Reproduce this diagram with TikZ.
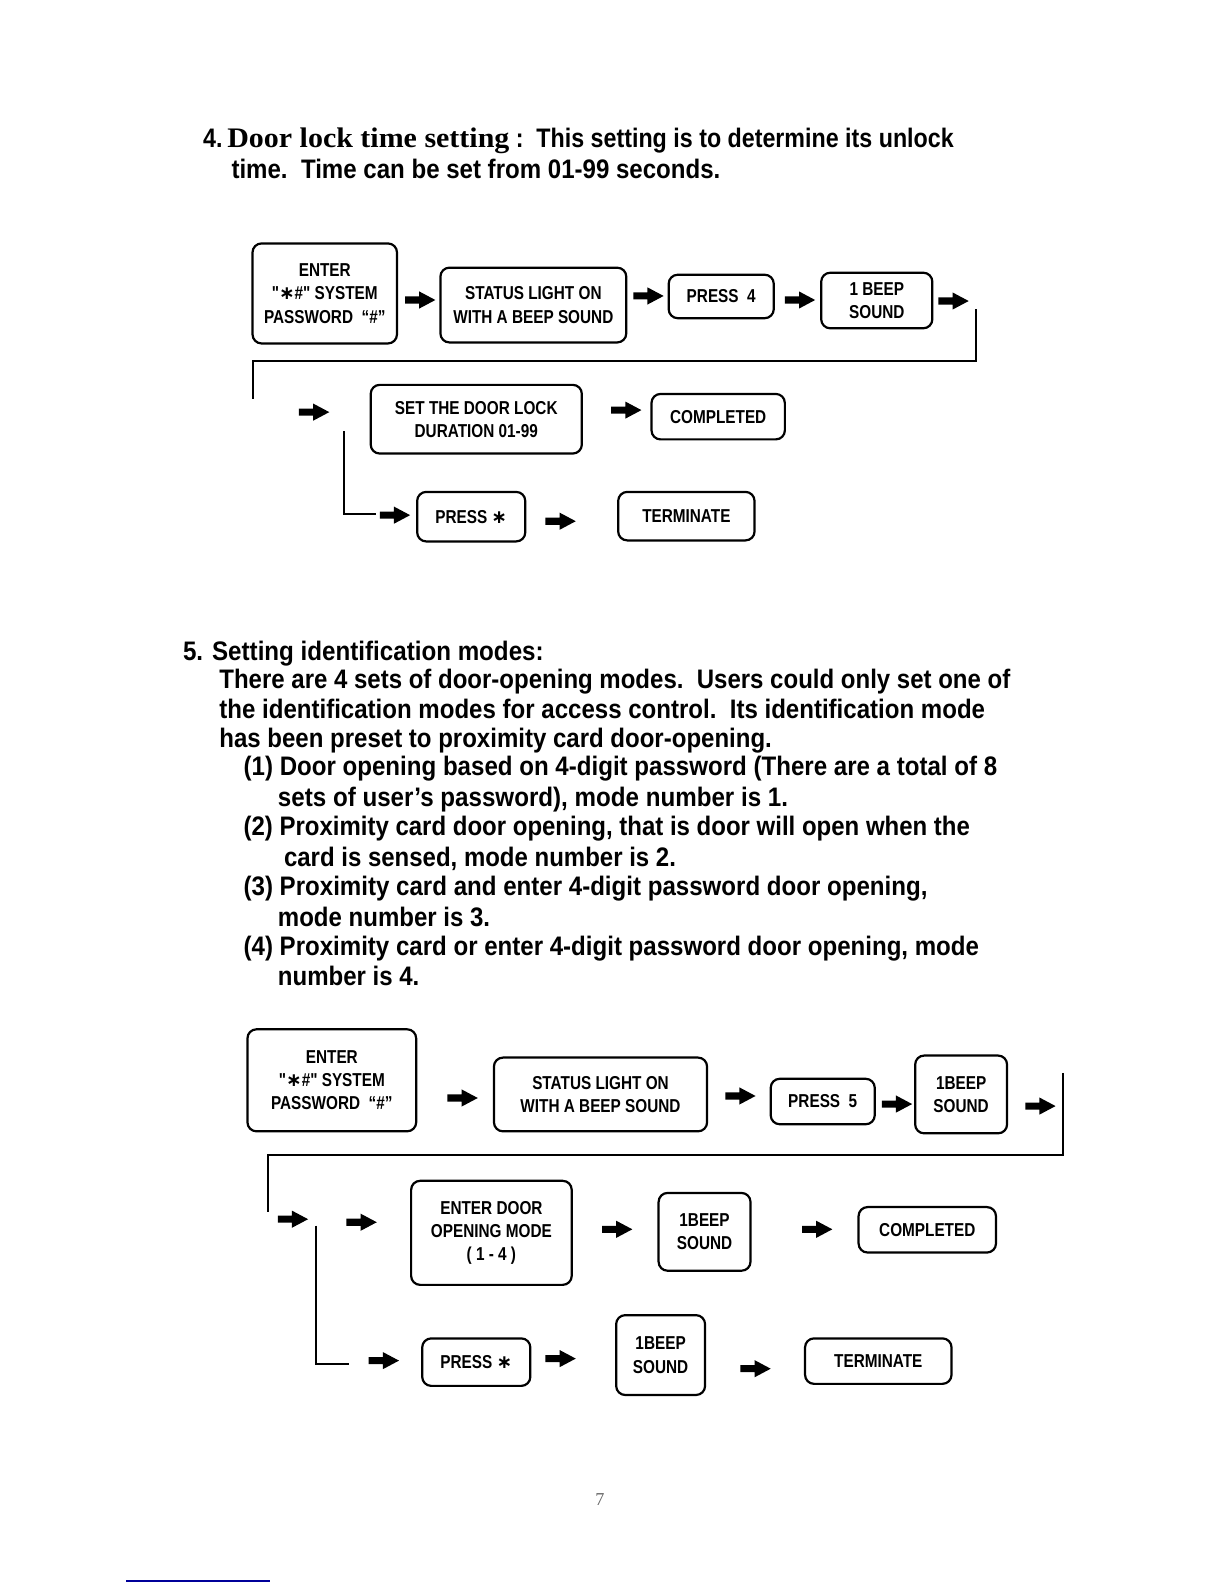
\documentclass[tikz,border=0pt]{standalone}
\usepackage{fontspec}
\usepackage{graphicx}
\setmainfont{Liberation Serif}
\newfontfamily\narrow[FakeStretch=0.82]{Liberation Sans}
\newfontfamily\serifb{Liberation Serif}
\newfontfamily\djv{DejaVu Sans}
\newsavebox\fitbox
\newcommand\fitw[2]{\sbox\fitbox{#2}\pgfmathsetmacro\fitfac{#1/\the\wd\fitbox}\scalebox{\fitfac}[1]{\usebox\fitbox}}
\newcommand\boxfont{\narrow\bfseries\fontsize{18.5}{23}\selectfont}
\newcommand\bodyfont{\narrow\bfseries\fontsize{26.5}{29}\selectfont}
\newcommand\mystar{{\djv\bfseries ∗}}
\tikzset{
  box/.style={draw, line width=2.2pt, rounded corners=9pt, inner sep=0pt, align=center, font=\boxfont},
  body/.style={anchor=base west, inner sep=0pt, font=\bodyfont},
  conn/.style={line width=2pt},
  pics/fatarrow/.style={code={\fill (0,-3.5) -- (14,-3.5) -- (14,-8.5) -- (30,0) -- (14,8.5) -- (14,3.5) -- (0,3.5) -- cycle;}}
}
\begin{document}
\begin{tikzpicture}[x=1pt,y=-1pt]
\useasboundingbox (0,0) rectangle (1224,1584);
\begin{scope}[scale=1.0101, transform shape]

% ---------- heading 4
\node[body] (h4a) at (201,146) {\fitw{743}{4.\,{\serifb\bfseries\fontsize{28}{29}\selectfont Door lock time setting} :\ \ This setting is to determine its unlock}};
\node[body] (h4b) at (229,177) {\fitw{484}{time.\ \ Time can be set from 01-99 seconds.}};

% ---------- diagram 1
\node[box, minimum width=143, minimum height=99] (A) at (321.5,290.5) {ENTER\\ "\mystar\#" SYSTEM\\ PASSWORD \ “\#”};
\node[box, minimum width=184, minimum height=74] (B) at (528,302) {STATUS LIGHT ON\\ WITH A BEEP SOUND};
\node[box, minimum width=104, minimum height=43] (C) at (714,293.5) {PRESS\ \ 4};
\node[box, minimum width=110, minimum height=55] (D) at (868,297.5) {1 BEEP\\ SOUND};
\node[box, minimum width=209, minimum height=68] (E) at (471.5,415) {SET THE DOOR LOCK\\ DURATION 01-99};
\node[box, minimum width=132, minimum height=45] (F) at (711,412.5) {COMPLETED};
\node[box, minimum width=107, minimum height=49] (G) at (466.5,511.5) {PRESS \mystar};
\node[box, minimum width=135, minimum height=48] (H) at (679.5,511) {TERMINATE};

\pic at (401,297) {fatarrow};
\pic at (627,293) {fatarrow};
\pic at (777,297) {fatarrow};
\pic at (929,298) {fatarrow};
\pic at (296,408) {fatarrow};
\pic at (605,406) {fatarrow};
\pic at (376,510) {fatarrow};
\pic at (540,516) {fatarrow};

\coordinate (r1a) at (966,306);
\coordinate (r1b) at (966,357);
\coordinate (r1c) at (250,357);
\coordinate (r1d) at (250,395);
\draw[conn] (r1a) -- (r1b) -- (r1c) -- (r1d);
\coordinate (b1a) at (340,427);
\coordinate (b1b) at (340,509);
\coordinate (b1c) at (372,509);
\draw[conn] (b1a) -- (b1b) -- (b1c);

% ---------- section 5 text
\node[body] (s5) at (181,654) {\fitw{357}{5. Setting identification modes:}};
\node[body] (t1) at (217,682) {\fitw{783}{There are 4 sets of door-opening modes.\ \ Users could only set one of}};
\node[body] (t2) at (217,711) {\fitw{758}{the identification modes for access control.\ \ Its identification mode}};
\node[body] (t3) at (217,740) {\fitw{547}{has been preset to proximity card door-opening.}};
\node[body] (i1) at (241,768) {\fitw{746}{(1) Door opening based on 4-digit password (There are a total of 8}};
\node[body] (i1b) at (275,798) {\fitw{505}{sets of user’s password), mode number is 1.}};
\node[body] (i2) at (241,827) {\fitw{719}{(2) Proximity card door opening, that is door will open when the}};
\node[body] (i2b) at (281,858) {\fitw{388}{card is sensed, mode number is 2.}};
\node[body] (i3) at (241,887) {\fitw{677}{(3) Proximity card and enter 4-digit password door opening,}};
\node[body] (i3b) at (275,917) {\fitw{210}{mode number is 3.}};
\node[body] (i4) at (241,946) {\fitw{728}{(4) Proximity card or enter 4-digit password door opening, mode}};
\node[body] (i4b) at (275,976) {\fitw{140}{number is 4.}};

% ---------- diagram 2
\node[box, minimum width=167, minimum height=101] (A2) at (328.5,1069.5) {ENTER\\ "\mystar\#" SYSTEM\\ PASSWORD \ “\#”};
\node[box, minimum width=211, minimum height=73] (B2) at (594.5,1083.5) {STATUS LIGHT ON\\ WITH A BEEP SOUND};
\node[box, minimum width=103, minimum height=45] (C2) at (814.5,1090.5) {PRESS\ \ 5};
\node[box, minimum width=91, minimum height=77] (D2) at (951.5,1083.5) {1BEEP\\ SOUND};
\node[box, minimum width=159, minimum height=103] (E2) at (486.5,1220.5) {ENTER DOOR\\ OPENING MODE\\ ( 1 - 4 )};
\node[box, minimum width=91, minimum height=77] (F2) at (697.5,1219.5) {1BEEP\\ SOUND};
\node[box, minimum width=136, minimum height=45] (G2) at (918,1217.5) {COMPLETED};
\node[box, minimum width=107, minimum height=47] (H2) at (471.5,1348.5) {PRESS \mystar};
\node[box, minimum width=88, minimum height=79] (I2) at (654,1341.5) {1BEEP\\ SOUND};
\node[box, minimum width=145, minimum height=45] (J2) at (869.5,1347.5) {TERMINATE};

\pic at (443,1087) {fatarrow};
\pic at (718,1085) {fatarrow};
\pic at (873,1093) {fatarrow};
\pic at (1015,1095) {fatarrow};
\pic at (275,1207) {fatarrow};
\pic at (343,1210) {fatarrow};
\pic at (596,1217) {fatarrow};
\pic at (794,1217) {fatarrow};
\pic at (365,1347) {fatarrow};
\pic at (540,1345) {fatarrow};
\pic at (733,1355) {fatarrow};

\coordinate (r2a) at (1052,1062);
\coordinate (r2b) at (1052,1143);
\coordinate (r2c) at (265,1143);
\coordinate (r2d) at (265,1200);
\draw[conn] (r2a) -- (r2b) -- (r2c) -- (r2d);
\coordinate (b2a) at (313,1213);
\coordinate (b2b) at (313,1350);
\coordinate (b2c) at (345,1350);
\draw[conn] (b2a) -- (b2b) -- (b2c);

% ---------- page footer
\node[font=\fontsize{18}{20}\selectfont, text=black!60, inner sep=0pt] (pg) at (594,1485) {7};
\coordinate (bl1) at (125,1565);
\coordinate (bl2) at (267,1565);
\draw[blue!60!black, line width=1.5pt] (bl1) -- (bl2);
\end{scope}
\end{tikzpicture}
\end{document}
